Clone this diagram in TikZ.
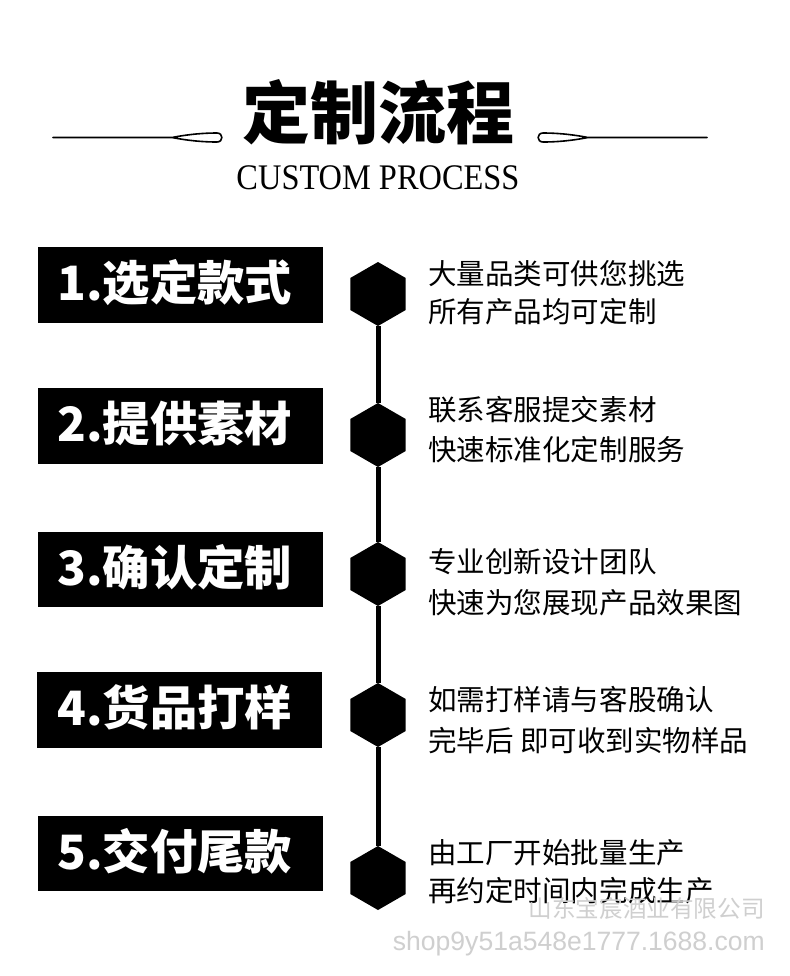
\documentclass[tikz,border=0pt]{standalone}
\usepackage{fontspec}
\setmainfont{Liberation Serif}
\newfontfamily\cjk{Noto Sans CJK SC}
\newfontfamily\wmfont{Liberation Sans}
\usetikzlibrary{shapes.geometric}
\definecolor{wm}{HTML}{CFCFCF}
\tikzset{
  stepbox/.style={fill=black, draw=none, inner sep=0pt, outer sep=0pt},
  steptext/.style={anchor=base west, text=white, inner sep=0pt, font=\cjk\bfseries\fontsize{35.5}{40}\selectfont},
  desc/.style={anchor=base west, inner sep=0pt, font=\cjk\fontsize{21.4}{24}\selectfont},
  hexnode/.style={shape=regular polygon, regular polygon sides=6, shape border rotate=30, fill=black, draw=none, minimum size=48pt, inner sep=0pt, outer sep=0pt},
  spine/.style={line width=3.75pt, black},
  ornament/.style={line width=1.2pt, black, line cap=round, line join=round},
}
\begin{document}
\begin{tikzpicture}[x=0.75pt, y=-0.75pt]
\useasboundingbox (0,0) rectangle (790,976);
\fill[white] (0,0) rectangle (790,976);

% title
\node[anchor=base, inner sep=0pt, font=\cjk\bfseries\fontsize{51}{56}\selectfont] (title) at (378,138) {定制流程};
\node[anchor=base, inner sep=0pt, xscale=0.9, font=\fontsize{27}{30}\selectfont] (subtitle) at (378,189) {CUSTOM PROCESS};

% ornaments
\draw[ornament] (53,137.5) -- (172,137.5) .. controls (190,134) and (205,133) .. (217,133) .. controls (223.5,133) and (223.5,142) .. (217,142) .. controls (205,142) and (190,141) .. (172,137.5);
\draw[ornament] (707,137.5) -- (588,137.5) .. controls (570,134) and (555,133) .. (543,133) .. controls (536.5,133) and (536.5,142) .. (543,142) .. controls (555,142) and (570,141) .. (588,137.5);

% step boxes
\fill[stepbox] (38,247) rectangle (323,323);
\fill[stepbox] (38,388) rectangle (323,464);
\fill[stepbox] (38,532) rectangle (323,607);
\fill[stepbox] (37,672) rectangle (322,748);
\fill[stepbox] (38,816) rectangle (323,891);

\node[steptext] (s1) at (57,300) {1.选定款式};
\node[steptext] (s2) at (57,441) {2.提供素材};
\node[steptext] (s3) at (57,585) {3.确认定制};
\node[steptext] (s4) at (57,725) {4.货品打样};
\node[steptext] (s5) at (57,869) {5.交付尾款};

% hexagons and spine
\node[hexnode] (h1) at (378,294) {};
\node[hexnode] (h2) at (378,435) {};
\node[hexnode] (h3) at (378,574) {};
\node[hexnode] (h4) at (378,715) {};
\node[hexnode] (h5) at (378,878) {};
\draw[spine] (h1) -- (h2);
\draw[spine] (h2) -- (h3);
\draw[spine] (h3) -- (h4);
\draw[spine] (h4) -- (h5);

% descriptions
\node[desc] (d1a) at (428,284) {大量品类可供您挑选};
\node[desc] (d1b) at (428,322) {所有产品均可定制};
\node[desc] (d2a) at (428,420) {联系客服提交素材};
\node[desc] (d2b) at (428,460) {快速标准化定制服务};
\node[desc] (d3a) at (428,572) {专业创新设计团队};
\node[desc] (d3b) at (428,613) {快速为您展现产品效果图};
\node[desc] (d4a) at (428,710) {如需打样请与客股确认};
\node[desc] (d4b) at (428,751) {完毕后 即可收到实物样品};
\node[desc] (d5a) at (428,863) {由工厂开始批量生产};
\node[desc] (d5b) at (428,901) {再约定时间内完成生产};

% watermark
\node[anchor=base east, inner sep=0pt, text=wm, font=\cjk\fontsize{17.7}{20}\selectfont] (wm1) at (765,917) {山东宝宸酒业有限公司};
\node[anchor=base east, inner sep=0pt, text=wm, font=\wmfont\fontsize{19.9}{22}\selectfont] (wm2) at (765,950) {shop9y51a548e1777.1688.com};
\end{tikzpicture}
\end{document}
